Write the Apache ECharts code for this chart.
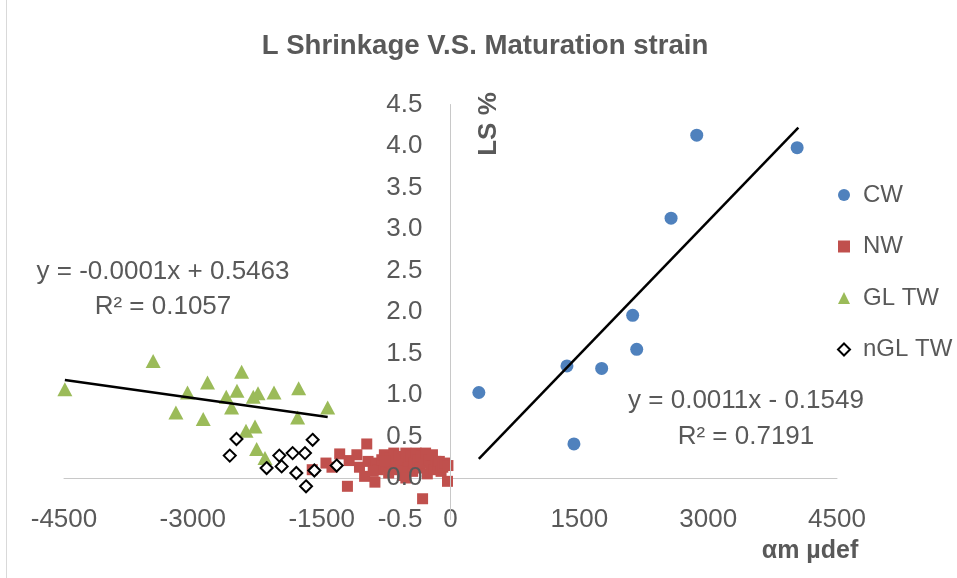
<!DOCTYPE html>
<html>
<head>
<meta charset="utf-8">
<script src="https://cdn.jsdelivr.net/npm/echarts@6/dist/echarts.min.js"></script>
<style>
html,body{margin:0;padding:0;background:#fff;}
#chart{width:957px;height:578px;}
</style>
</head>
<body>
<div id="chart"></div>
<script>
// ---- data ----
const seriesNames = ['CW', 'NW', 'GL TW', 'nGL TW'];

const cwData = [[330,1.03],[1437,0.41],[1356,1.35],[1760,1.32],[2168,1.55],[2121,1.96],[2568,3.13],[2867,4.13],[4036,3.98]];

const nwData = [[-1610,0.10],[-1450,0.18],[-1380,0.13],[-1290,0.29],[-1200,-0.10],[-1180,0.21],[-1090,0.28],[-1060,0.13],
  [-975,0.41],[-1000,0.02],[-960,0.20],[-880,-0.05],[-870,0.18],[-840,0.10],[-800,0.22],[-770,0.28],[-750,0.14],
  [-720,0.06],[-700,0.24],[-680,0.18],[-660,0.30],[-640,0.10],[-620,0.20],[-600,0.26],[-580,0.15],[-560,0.03],
  [-540,0.22],[-520,0.30],[-500,0.12],[-480,0.20],[-460,0.27],[-440,0.08],[-420,0.18],[-400,0.30],[-380,0.22],
  [-360,0.12],[-340,0.26],[-325,-0.25],[-310,0.18],[-290,0.30],[-270,0.05],[-250,0.22],[-230,0.14],[-210,0.28],
  [-190,0.10],[-170,0.20],[-150,0.16],[-130,0.20],[-110,0.08],[-90,0.13],[-60,0.18],[-35,-0.04],[-30,0.15],
  [-520,0.00],[-900,0.08],[-760,0.20]];

const glData = [[-4490,1.07],[-3462,1.41],[-3197,0.79],[-3062,1.03],[-2879,0.71],[-2829,1.15],[-2611,0.98],[-2549,0.85],
  [-2486,1.05],[-2432,1.28],[-2381,0.57],[-2296,0.98],[-2276,0.62],[-2241,1.02],[-2257,0.35],[-2160,0.24],
  [-2055,1.03],[-1780,0.73],[-1768,1.08],[-1430,0.85]];

const nglData = [[-2570,0.27],[-2492,0.47],[-2141,0.12],[-1993,0.27],[-1966,0.14],[-1838,0.30],[-1795,0.06],
  [-1694,0.30],[-1605,0.46],[-1682,-0.10],[-1585,0.09],[-1325,0.15]];

// trend line end points
const trendGL = [[-4490,1.18],[-1430,0.735]];
const trendCW = [[330,0.23],[4050,4.22]];

const xTicks = {min:-4500, max:4500, interval:1500};
const yTicks = {min:-0.5, max:4.5, interval:0.5};

const eqLeft = ['y = -0.0001x + 0.5463', 'R² = 0.1057'];
const eqRight = ['y = 0.0011x - 0.1549', 'R² = 0.7191'];

// ---- chart ----
const FONT = '"Liberation Sans", Arial, sans-serif';
const GREY = '#595959';
const GRID = {left:64, right:120, top:104.5, bottom:58.5};
const W = 957;
const chart = echarts.init(document.getElementById('chart'), null, {renderer:'canvas'});

// horizontal position of x = 0 inside the grid, from the axis range
const plotW = W - GRID.left - GRID.right;
const zeroOffset = plotW * (0 - xTicks.min) / (xTicks.max - xTicks.min);

function eqText(lines, cx, y1, y2){
  return [
    {type:'text', x:cx, y:y1, style:{text:lines[0], font:'26px '+FONT, fill:GREY, textAlign:'center', textVerticalAlign:'middle'}},
    {type:'text', x:cx, y:y2, style:{text:lines[1], font:'26px '+FONT, fill:GREY, textAlign:'center', textVerticalAlign:'middle'}}
  ];
}

const option = {
  animation:false,
  backgroundColor:'#fff',
  textStyle:{fontFamily:FONT},
  title:{
    text:'L Shrinkage V.S. Maturation strain',
    left:480, top:27, textAlign:'center',
    textStyle:{fontFamily:FONT, fontSize:27.6, fontWeight:'bold', color:GREY}
  },
  legend:{
    data:seriesNames,
    orient:'vertical',
    left:837, top:183, padding:0,
    itemGap:27.5, itemWidth:12, itemHeight:12,
    textStyle:{fontFamily:FONT, fontSize:24, color:GREY, padding:[0,0,0,8]}
  },
  grid:{left:GRID.left, right:GRID.right, top:GRID.top, bottom:GRID.bottom, containLabel:false, outerBoundsMode:'none'},
  xAxis:[{
    type:'value', min:xTicks.min, max:xTicks.max, interval:xTicks.interval,
    axisLine:{show:false, onZero:false},
    axisTick:{show:false},
    splitLine:{show:false},
    axisLabel:{fontFamily:FONT, fontSize:26, color:GREY, margin:0, verticalAlign:'middle', formatter:v=>String(v)}
  },{
    type:'value', min:xTicks.min, max:xTicks.max, interval:xTicks.interval, position:'bottom',
    axisLine:{show:true, onZero:true, lineStyle:{color:'#c8c8c8', width:1}},
    axisTick:{show:false}, axisLabel:{show:false}, splitLine:{show:false}
  }],
  yAxis:{
    type:'value', min:yTicks.min, max:yTicks.max, interval:yTicks.interval, z:5,
    position:'left', offset:-zeroOffset,
    axisLine:{show:true, onZero:false, lineStyle:{color:'#c8c8c8', width:1}},
    axisTick:{show:false},
    splitLine:{show:false},
    axisLabel:{fontFamily:FONT, fontSize:26, color:GREY, margin:28, formatter:v=>v.toFixed(1)}
  },
  series:[
    {name:'CW', type:'scatter', data:cwData, symbol:'circle', symbolSize:13, itemStyle:{color:'#4F81BD', opacity:1}},
    {name:'NW', type:'scatter', data:nwData, symbol:'rect', symbolSize:11, itemStyle:{color:'#C0504D', opacity:1}},
    {name:'GL TW', type:'scatter', data:glData, symbol:'triangle', symbolSize:[15,14], itemStyle:{color:'#9BBB59', opacity:1}},
    {name:'nGL TW', type:'scatter', data:nglData, symbol:'diamond', symbolSize:12, itemStyle:{color:'#ffffff', borderColor:'#000000', borderWidth:2, opacity:1}},
    {name:'trendGL', type:'line', data:trendGL, showSymbol:false, symbol:'none', lineStyle:{color:'#000', width:2.5}, z:4, silent:true},
    {name:'trendCW', type:'line', data:trendCW, showSymbol:false, symbol:'none', lineStyle:{color:'#000', width:2.5}, z:4, silent:true}
  ],
  graphic:[
    {type:'line', shape:{x1:6.5, y1:0, x2:6.5, y2:578}, style:{stroke:'#d9d9d9', lineWidth:1}, silent:true},
    {type:'text', x:489, y:124, rotation:Math.PI/2, style:{text:'LS %', font:'bold 26px '+FONT, fill:GREY, textAlign:'center', textVerticalAlign:'middle'}},
    {type:'text', x:810, y:551, style:{text:'αm µdef', font:'bold 25px '+FONT, fill:GREY, textAlign:'center', textVerticalAlign:'middle'}},
    ...eqText(eqLeft, 163, 272, 307),
    ...eqText(eqRight, 746, 401, 437)
  ]
};
chart.setOption(option);
</script>
</body>
</html>
